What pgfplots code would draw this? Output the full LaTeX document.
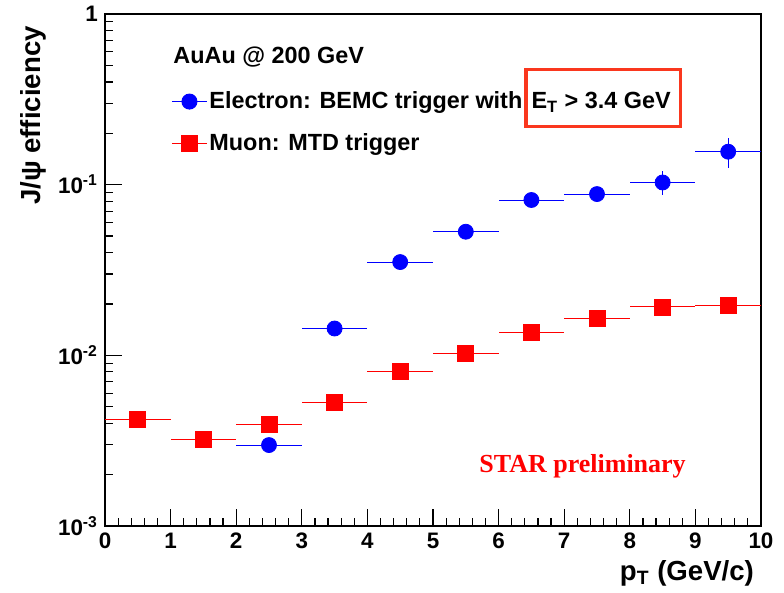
\documentclass[border=0pt]{standalone}
\usepackage{fontspec}
\setmainfont{Liberation Sans}
\newfontfamily\timesfont{Liberation Serif}
\usepackage{pgfplots}
\pgfplotsset{compat=1.18}
\definecolor{boxred}{RGB}{250,55,30}

\begin{document}
\begin{tikzpicture}
\begin{axis}[
  scale only axis, width=328pt, height=256pt,
  at={(0,0)}, anchor=south west,
  xmin=0, xmax=10,
  ymode=log, ymin=1e-3, ymax=1,
  xtick={0,...,10}, minor x tick num=4,
  ytick={0.001,0.01,0.1,1},
  yticklabels={10\textsuperscript{-3},10\textsuperscript{-2},10\textsuperscript{-1},1},
  tick pos=left, tick align=inside,
  major tick length=8.5pt, minor tick length=4pt,
  every tick/.style={black, line width=0.6pt},
  axis line style={line width=0.6pt},
  /pgf/number format/assume math mode=true,
  ticklabel style={font=\fontsize{11.2}{12}\selectfont\bfseries},
  label style={font=\fontsize{13.8}{16}\selectfont\bfseries},
  xlabel={p\textsubscript{T} (GeV/c)},
  ylabel={J/ψ efficiency},
  xlabel style={at={(rel axis cs:1,-0.1055)}, anchor=base east},
  ylabel style={at={(rel axis cs:-0.1098,0.99)}, anchor=east},
  legend style={draw=none, fill=none, at={(rel axis cs:0.1007,0.788)}, anchor=west,
    inner sep=0pt, row sep=9pt, cells={anchor=west}, nodes={inner sep=1pt},
    font=\fontsize{11.7}{14}\selectfont\bfseries},
  legend image code/.code={\draw[mark repeat=2,mark phase=2,#1] plot coordinates {(0pt,0pt) (8.75pt,0pt) (17.5pt,0pt)};},
]
\setlength{\fboxrule}{1.6pt}
\setlength{\fboxsep}{2pt}

\addlegendimage{blue, mark=*, mark size=3.75pt, line width=0.5pt}
\addlegendentry{Electron: BEMC trigger with\hspace{1pt}\smash{\fcolorbox{boxred}{white}{\rule[-6pt]{0pt}{22.7pt}E\textsubscript{T} > 3.4 GeV\hspace{2pt}}}}
\addlegendimage{red, mark=square*, mark size=4pt, line width=0.5pt}
\addlegendentry{Muon: MTD trigger}

% electron (BEMC)
\addplot[forget plot, blue, only marks, mark=*, mark size=3.75pt,
  error bars/.cd, x dir=both, x explicit, y dir=both, y explicit,
  error mark=none, error bar style={line width=0.5pt}]
coordinates {
  (2.5,0.00298) +- (0.5,0)
  (3.5,0.01436) +- (0.5,0)
  (4.5,0.0352)  +- (0.5,0)
  (5.5,0.0530)  +- (0.5,0)
  (6.5,0.0813)  +- (0.5,0)
  (7.5,0.0881)  +- (0.5,0)
  (8.5,0.103)   +- (0.5,0.0165)
  (9.5,0.156)   +- (0.5,0.031)
};

% muon (MTD)
\addplot[forget plot, red, only marks, mark=square*, mark size=4pt,
  error bars/.cd, x dir=both, x explicit, y dir=both, y explicit,
  error mark=none, error bar style={line width=0.5pt}]
coordinates {
  (0.5,0.00423) +- (0.5,0)
  (1.5,0.00323) +- (0.5,0)
  (2.5,0.00395) +- (0.5,0)
  (3.5,0.00527) +- (0.5,0)
  (4.5,0.0080)  +- (0.5,0)
  (5.5,0.01026) +- (0.5,0)
  (6.5,0.01355) +- (0.5,0)
  (7.5,0.01637) +- (0.5,0)
  (8.5,0.0192)  +- (0.5,0)
  (9.5,0.0197)  +- (0.5,0)
};

\node[anchor=base west, inner sep=0pt, font=\fontsize{11.7}{14}\selectfont\bfseries]
  at (rel axis cs:0.1037,0.9037) {AuAu @ 200 GeV};
\node[anchor=base, inner sep=0pt, text=red, font=\timesfont\fontsize{13}{15}\selectfont\bfseries]
  at (axis cs:7.28,0.002047) {STAR preliminary};
\end{axis}
\pgfresetboundingbox
\useasboundingbox (-52.5pt,-33.15pt) rectangle (339.5pt,263pt);
\end{tikzpicture}
\end{document}
